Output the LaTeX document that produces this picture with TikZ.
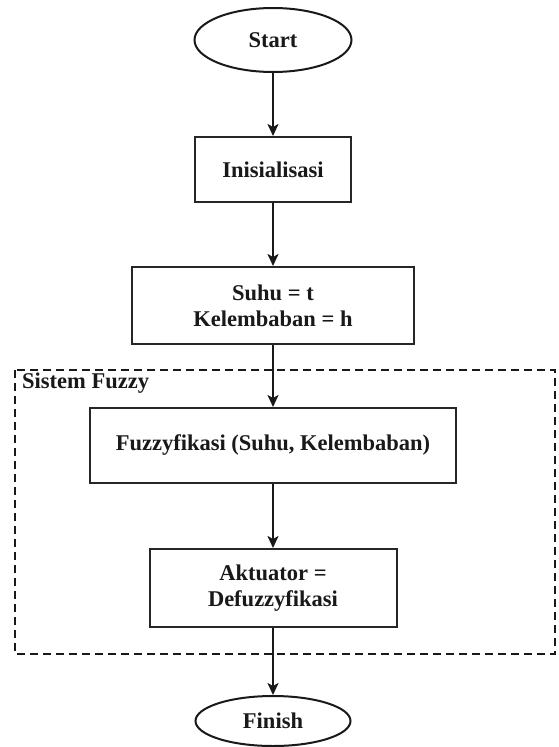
\documentclass[tikz,border=0pt]{standalone}
\usepackage{fontspec}
\setmainfont{Liberation Serif}
\usetikzlibrary{shapes.geometric,arrows.meta}
\begin{document}
\begin{tikzpicture}[x=1pt,y=-1pt,
  every node/.style={font=\fontsize{22.5}{26}\selectfont\bfseries, text=black!90},
  procbox/.style={draw=black!85, line width=2pt, rectangle, inner sep=0pt, align=center},
  termbox/.style={draw=black!90, line width=2pt, ellipse, inner sep=0pt, minimum width=157pt, minimum height=64pt},
  arr/.style={draw=black!90, line width=2pt, -{Stealth[length=12pt,width=11pt,inset=3pt]}},
  groupbox/.style={draw=black!90, line width=2pt, dash pattern=on 8pt off 5pt}
]
\useasboundingbox (0,0) rectangle (558,747);
\clip (0,0) rectangle (558,747);
\fill[white] (0,0) rectangle (558,747);

\draw[groupbox] (15,370) rectangle (555,654);
\node[anchor=base west, inner sep=0pt] (grouplabel) at (22,388) {Sistem Fuzzy};

\node[termbox] (start) at (273,40) {Start};
\node[procbox, minimum width=156pt, minimum height=65pt] (init) at (273,169.5) {Inisialisasi};
\node[procbox, minimum width=282pt, minimum height=77pt] (suhu) at (273,305.5) {Suhu = t\\Kelembaban = h};
\node[procbox, minimum width=366pt, minimum height=75pt] (fuzzy) at (273,445.5) {Fuzzyfikasi (Suhu, Kelembaban)};
\node[procbox, minimum width=247pt, minimum height=78pt] (akt) at (273,588) {Aktuator =\\Defuzzyfikasi};
\node[termbox, minimum width=155pt, minimum height=50pt] (finish) at (273,721) {Finish};

\draw[arr] (start) -- (init);
\draw[arr] (init) -- (suhu);
\draw[arr] (suhu) -- (fuzzy);
\draw[arr] (fuzzy) -- (akt);
\draw[arr] (akt) -- (finish);
\end{tikzpicture}
\end{document}
